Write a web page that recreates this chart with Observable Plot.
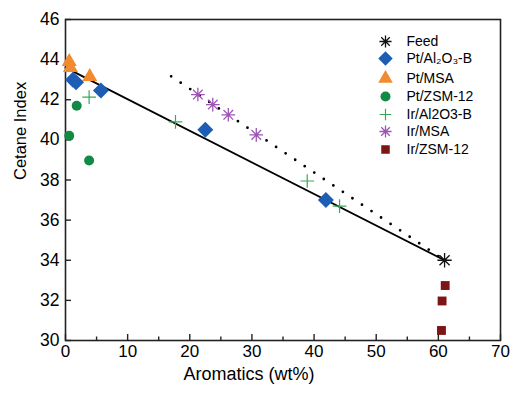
<!DOCTYPE html>
<html>
<head>
<meta charset="utf-8">
<script src="https://cdn.jsdelivr.net/npm/d3@7"></script>
<script src="https://cdn.jsdelivr.net/npm/@observablehq/plot@0.6"></script>
<style>
  html, body { margin: 0; padding: 0; background: #fff; }
  #chart svg { display: block; font-family: "Liberation Sans", Arial, sans-serif; }
</style>
</head>
<body>
<div id="chart"></div>
<script>
// ---- data ----
const feedX = [61.0];
const feedY = [34.0];
const ptAlX = [1.2, 1.7, 5.7, 22.5, 41.9];
const ptAlY = [43.0, 42.87, 42.46, 40.5, 37.0];
const ptMsaX = [0.6, 0.8, 3.9];
const ptMsaY = [43.9, 43.6, 43.15];
const ptZsmX = [1.8, 0.6, 3.8];
const ptZsmY = [41.7, 40.2, 38.97];
const irAlX = [3.8, 17.7, 38.9, 44.1];
const irAlY = [42.13, 40.9, 37.95, 36.7];
const irMsaX = [21.3, 23.7, 26.2, 30.7];
const irMsaY = [42.26, 41.76, 41.25, 40.25];
const irZsmX = [61.1, 60.6, 60.5];
const irZsmY = [32.74, 31.97, 30.5];
const solidX = [0, 61];
const solidY = [43.6, 34];
const dotX = [17, 61];
const dotY = [43.17, 34];
const xTicks = [0, 10, 20, 30, 40, 50, 60, 70];
const xMinor = [5, 15, 25, 35, 45, 55, 65];
const yTicks = [30, 32, 34, 36, 38, 40, 42, 44, 46];
const seriesNames = ["Feed", "Pt/Al\u2082O\u2083-B", "Pt/MSA", "Pt/ZSM-12", "Ir/Al2O3-B", "Ir/MSA", "Ir/ZSM-12"];

const pts = (xs, ys) => xs.map((x, i) => ({x, y: ys[i]}));

// 8-arm asterisk symbol
const star8 = {
  draw(ctx, size) {
    const r = Math.sqrt(size) * 0.62;
    const d = r * Math.SQRT1_2;
    ctx.moveTo(-r, 0); ctx.lineTo(r, 0);
    ctx.moveTo(0, -r); ctx.lineTo(0, r);
    ctx.moveTo(-d, -d); ctx.lineTo(d, d);
    ctx.moveTo(-d, d); ctx.lineTo(d, -d);
  }
};
const plusSym = {
  draw(ctx, size) {
    const r = Math.sqrt(size) * 0.55;
    ctx.moveTo(-r, 0); ctx.lineTo(r, 0);
    ctx.moveTo(0, -r); ctx.lineTo(0, r);
  }
};

const styles = [
  {symbol: star8, stroke: "#111", fill: "none", r: 6.5, strokeWidth: 1.3},
  {symbol: "diamond2", fill: "#1d5db3", stroke: "none", r: 7.2},
  {symbol: "triangle", fill: "#f28a30", stroke: "none", r: 5.6},
  {symbol: "circle", fill: "#118a45", stroke: "none", r: 5},
  {symbol: plusSym, stroke: "#3aa757", fill: "none", r: 7, strokeWidth: 1.2},
  {symbol: star8, stroke: "#9d55b3", fill: "none", r: 6.2, strokeWidth: 1.3},
  {symbol: "square", fill: "#7d1416", stroke: "none", r: 5}
];
const legendStyles = styles.map((s, i) => ({...s, r: [5.5, 6.5, 5.4, 5, 6, 5.5, 4.8][i]}));
const seriesData = [
  pts(feedX, feedY), pts(ptAlX, ptAlY), pts(ptMsaX, ptMsaY), pts(ptZsmX, ptZsmY),
  pts(irAlX, irAlY), pts(irMsaX, irMsaY), pts(irZsmX, irZsmY)
];

const mL = 65, mT = 19;
const legendX = 385 - mL;
const legendTextX = 406 - mL;
const legendRows = [41, 58, 78, 96, 114, 131, 149];

const marks = [
  Plot.line(pts(solidX, solidY), {x: "x", y: "y", stroke: "#000", strokeWidth: 1.8}),
  Plot.line(pts(dotX, dotY), {x: "x", y: "y", stroke: "#000", strokeWidth: 2.8, strokeDasharray: "0 11.5", strokeLinecap: "round"}),
];
[6, 3, 2, 1, 4, 5, 0].forEach(i => {
  const s = styles[i];
  marks.push(Plot.dot(seriesData[i], {x: "x", y: "y", symbol: s.symbol, fill: s.fill, stroke: s.stroke, r: s.r, strokeWidth: s.strokeWidth || 1}));
});
// legend
seriesNames.forEach((name, i) => {
  const s = legendStyles[i];
  marks.push(Plot.dot([name], {frameAnchor: "top-left", dx: legendX, dy: legendRows[i] - mT, symbol: s.symbol, fill: s.fill, stroke: s.stroke, r: s.r, strokeWidth: s.strokeWidth || 1}));
  marks.push(Plot.text([name], {frameAnchor: "top-left", dx: legendTextX, dy: legendRows[i] - mT, text: d => d, textAnchor: "start", lineAnchor: "middle", fontSize: 14, fill: "#000"}));
});

const chart = Plot.plot({
  width: 512,
  height: 394,
  marginLeft: mL,
  marginRight: 12,
  marginTop: mT,
  marginBottom: 54,
  style: {fontFamily: "'Liberation Sans', Arial, sans-serif", background: "#fff", color: "#000"},
  x: {domain: [0, 70]},
  y: {domain: [30, 46]},
  marks: [
    Plot.frame({stroke: "#222", strokeWidth: 1.6}),
    Plot.axisX(xTicks, {tickSize: -6, tickPadding: 10, fontSize: 17, label: null, stroke: "#222", strokeWidth: 1.4}),
    Plot.axisX(xMinor, {tickSize: -3.5, text: null, label: null, stroke: "#222", strokeWidth: 1.4}),
    Plot.axisY(yTicks, {tickSize: -6, tickPadding: 12, fontSize: 17.5, label: null, stroke: "#222", strokeWidth: 1.4}),
    Plot.text(["Aromatics (wt%)"], {frameAnchor: "bottom", dy: 34, dx: -34, fontSize: 18, text: d => d, lineAnchor: "middle"}),
    Plot.text(["Cetane Index"], {frameAnchor: "left", dx: -45, rotate: -90, fontSize: 16.5, text: d => d, lineAnchor: "middle"}),
    ...marks
  ]
});
document.getElementById("chart").appendChild(chart);
</script>
</body>
</html>
